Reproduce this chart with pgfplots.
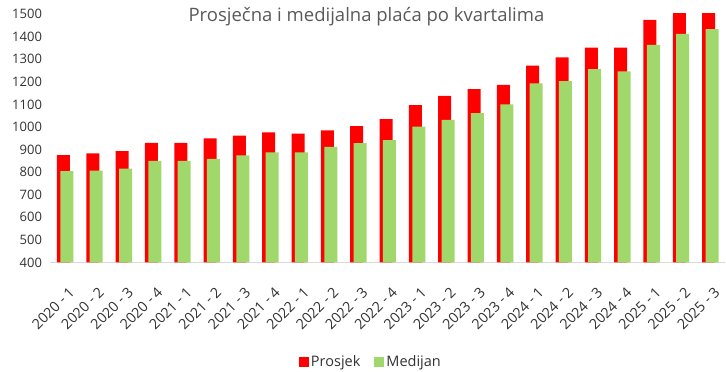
\documentclass[border=0pt]{standalone}
\usepackage{pgfplots}
\pgfplotsset{compat=1.18}
\usepackage{fontspec}
\setmainfont{Open Sans}
\definecolor{pros}{RGB}{255,0,0}
\definecolor{med}{RGB}{160,216,108}
\definecolor{titlegray}{RGB}{89,89,89}
\definecolor{ticktxt}{RGB}{50,50,50}
\definecolor{axisgray}{RGB}{217,217,217}
\begin{document}
\begin{tikzpicture}[x=1pt,y=1pt]
\useasboundingbox (0,0) rectangle (726,372);
\begin{axis}[
  at={(50.5pt,109.5pt)}, anchor=south west,
  scale only axis, width=674.5pt, height=248.5pt,
  ybar, bar width=13pt,
  ymin=400, ymax=1500, ytick distance=100,
  xmin=-0.5, xmax=22.5,
  xtick={0,...,22},
  xticklabels={2020 - 1,2020 - 2,2020 - 3,2020 - 4,2021 - 1,2021 - 2,2021 - 3,2021 - 4,2022 - 1,2022 - 2,2022 - 3,2022 - 4,2023 - 1,2023 - 2,2023 - 3,2023 - 4,2024 - 1,2024 - 2,2024 - 3,2024 - 4,2025 - 1,2025 - 2,2025 - 3},
  major tick length=0pt,
  axis x line*=bottom,
  axis y line*=left,
  y axis line style={draw=none},
  x axis line style={draw=axisgray, line width=0.8pt, -},
  /pgf/number format/assume math mode=true,
  /pgf/number format/1000 sep={},
  tick label style={font=\fontsize{13}{15}\selectfont, text=ticktxt},
  yticklabel style={anchor=east, xshift=-5pt},
  xticklabel style={xshift=3pt, yshift=-18.5pt, rotate=45, anchor=north east, font=\fontsize{14.3}{15}\selectfont},
  title={Prosječna i medijalna plaća po kvartalima},
  title style={at={(rel axis cs:0.4685,1)}, anchor=center, yshift=-8.5pt, font=\fontsize{18.5}{22}\selectfont, text=titlegray},
  legend style={at={(rel axis cs:0.475,-0.3985)}, anchor=center, draw=none, fill=none, legend columns=2, font=\fontsize{14.5}{16}\selectfont, text=ticktxt, /tikz/every even column/.append style={column sep=12pt}},
  legend image code/.code={\fill[#1] (0pt,-5pt) rectangle (10pt,5pt);},
  clip=true,
]
\addplot[fill=pros, draw=none, bar shift=-1.7pt] coordinates {
(0,875) (1,883) (2,893) (3,930) (4,930) (5,949) (6,962) (7,976) (8,971) (9,985) (10,1004) (11,1035) (12,1097) (13,1138) (14,1167) (15,1186) (16,1272) (17,1308) (18,1351) (19,1351) (20,1474) (21,1510) (22,1510)};
\addlegendentry{Prosjek}
\addplot[fill=med, draw=none, bar shift=1.7pt] coordinates {
(0,804) (1,807) (2,816) (3,850) (4,850) (5,859) (6,874) (7,888) (8,888) (9,912) (10,928) (11,942) (12,1001) (13,1031) (14,1061) (15,1100) (16,1193) (17,1203) (18,1256) (19,1246) (20,1363) (21,1412) (22,1433)};
\addlegendentry{Medijan}
\end{axis}
\end{tikzpicture}
\end{document}
